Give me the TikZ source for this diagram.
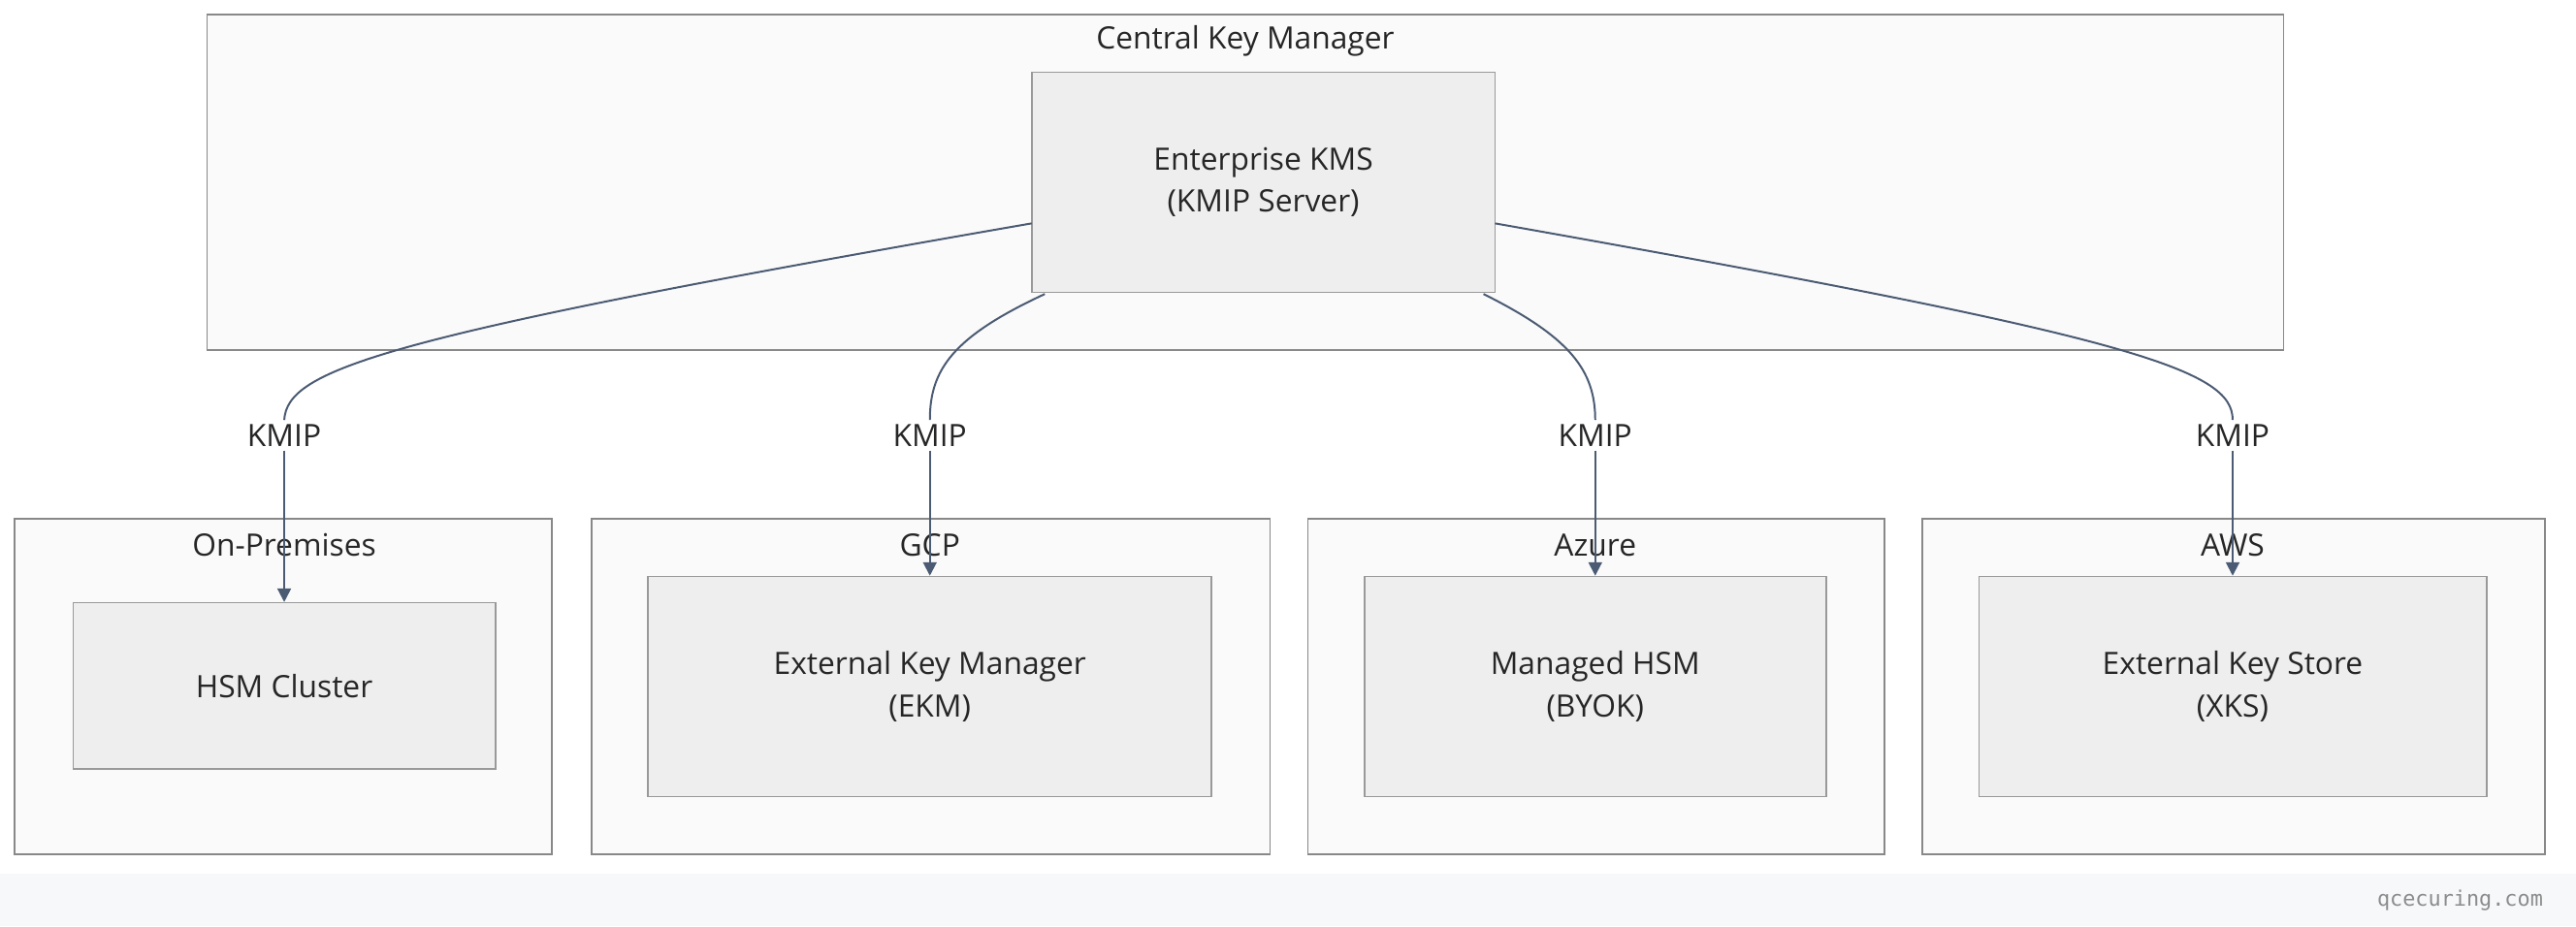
\documentclass[tikz,border=0pt]{standalone}
\usepackage{fontspec}
\setmainfont{Open Sans}
\newfontfamily\monofont{DejaVu Sans Mono}
\usetikzlibrary{positioning}
\usetikzlibrary{arrows.meta}
\definecolor{groupfill}{HTML}{FAFAFA}
\definecolor{groupline}{HTML}{888888}
\definecolor{boxfill}{HTML}{EEEEEE}
\definecolor{boxline}{HTML}{999999}
\definecolor{edge}{HTML}{4B5B73}
\definecolor{footer}{HTML}{F6F8FA}

\begin{document}
\begin{tikzpicture}[x=0.03cm, y=-0.03cm,
    every node/.style = {font=\fontsize{16}{22}\selectfont, text=black!85},
    group/.style = {draw=groupline, fill=groupfill, line width=0.8pt},
    box/.style = {draw=boxline, fill=boxfill, line width=0.8pt},
    link/.style = {draw=edge, line width=1pt},
    lbl/.style = {fill=white, inner sep=2pt}
    ]
    \useasboundingbox (0,0) rectangle (1568,564);
    \fill[footer] (0,532) rectangle (1568,564);
    \node[anchor=east, text=black!45, font=\monofont\fontsize{11}{13}\selectfont] (site) at (1552,548) {qcecuring.com};
    % groups
    \draw[group] (126,9) rectangle (1390,213);
    \node (central) at (758,25) {Central Key Manager};
    \draw[group] (9,316) rectangle (336,520);
    \node (onprem) at (173,332) {On-Premises};
    \draw[group] (360,316) rectangle (773,520);
    \node (gcp) at (566,332) {GCP};
    \draw[group] (796,316) rectangle (1147,520);
    \node (azure) at (971,332) {Azure};
    \draw[group] (1170,316) rectangle (1549,520);
    \node (aws) at (1359,332) {AWS};
    % nodes
    \node[box, minimum width=282*0.03cm, minimum height=134*0.03cm, align=center] (kms) at (769,111) {Enterprise KMS\\(KMIP Server)};
    \node[box, minimum width=257*0.03cm, minimum height=101*0.03cm] (hsm) at (173,417.5) {HSM Cluster};
    \node[box, minimum width=343*0.03cm, minimum height=134*0.03cm, align=center] (ekm) at (566,418) {External Key Manager\\(EKM)};
    \node[box, minimum width=281*0.03cm, minimum height=134*0.03cm, align=center] (mhsm) at (971,418) {Managed HSM\\(BYOK)};
    \node[box, minimum width=309*0.03cm, minimum height=134*0.03cm, align=center] (xks) at (1359,418) {External Key Store\\(XKS)};
    % labels
    \node[lbl] (k1) at (173,265) {KMIP};
    \node[lbl] (k2) at (566,265) {KMIP};
    \node[lbl] (k3) at (971,265) {KMIP};
    \node[lbl] (k4) at (1359,265) {KMIP};
    % edges
    \coordinate (s1) at (628,136);
    \coordinate (s2) at (636,179);
    \coordinate (s3) at (903,179);
    \coordinate (s4) at (910,136);
    \draw[link] (s1) .. controls (230,205) and (175,225) .. (k1.north);
    \draw[link] (s2) .. controls (580,205) and (566,225) .. (k2.north);
    \draw[link] (s3) .. controls (955,205) and (971,225) .. (k3.north);
    \draw[link] (s4) .. controls (1300,205) and (1359,225) .. (k4.north);
    \draw[link, -{Triangle[length=7pt,width=7pt]}] (k1) -- (hsm.north);
    \draw[link, -{Triangle[length=7pt,width=7pt]}] (k2) -- (ekm.north);
    \draw[link, -{Triangle[length=7pt,width=7pt]}] (k3) -- (mhsm.north);
    \draw[link, -{Triangle[length=7pt,width=7pt]}] (k4) -- (xks.north);
\end{tikzpicture}
\end{document}
